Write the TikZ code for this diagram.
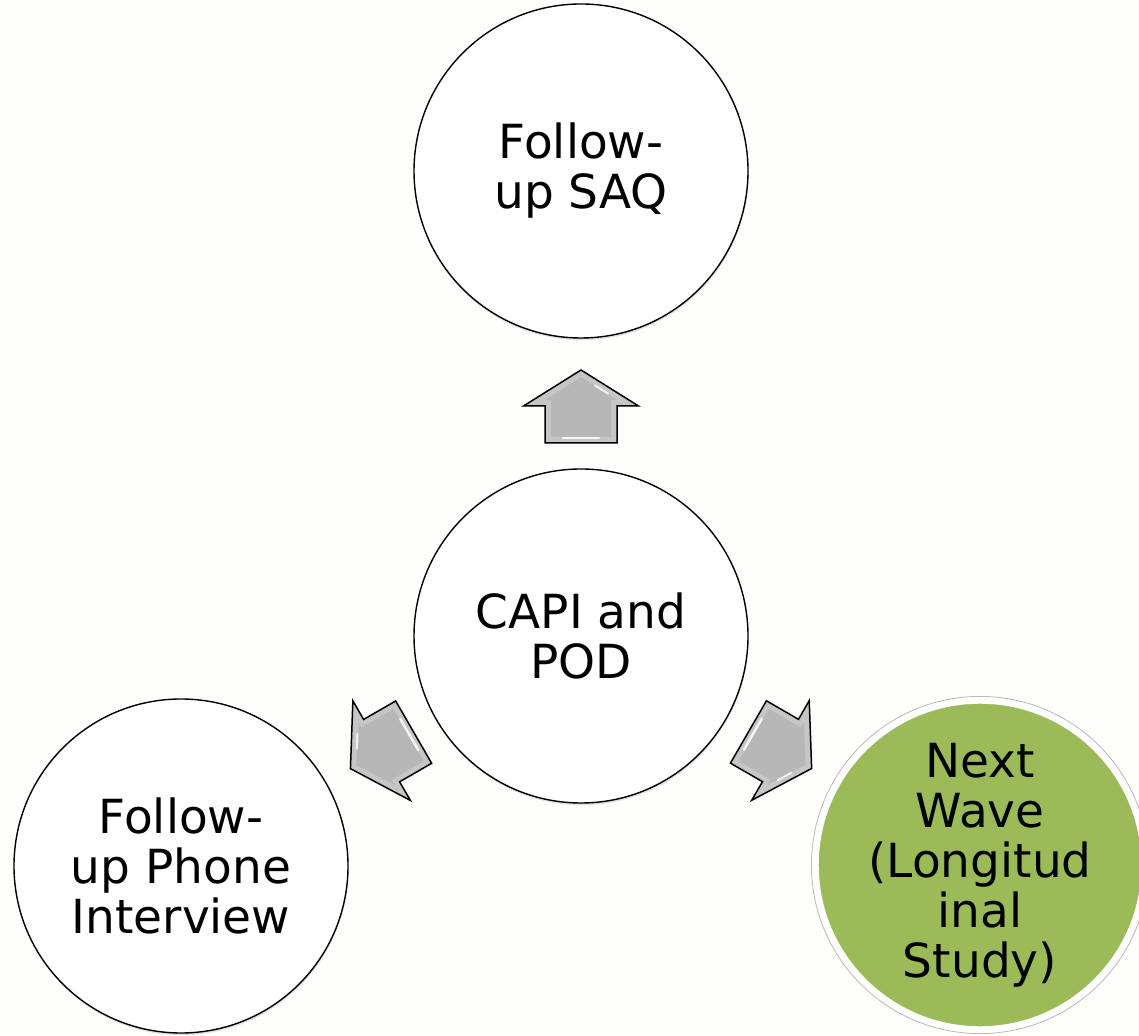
\documentclass[tikz,border=0pt]{standalone}
\usepackage{fontspec}
\setmainfont{DejaVu Sans}
\usetikzlibrary{calc,shadows}

\definecolor{paper}{HTML}{FEFEFA}
\definecolor{olive}{HTML}{9BBB59}
\definecolor{bevelrim}{HTML}{C6C6C6}
\definecolor{bevelface}{HTML}{B7B7B7}

\tikzset{
  stage/.style={circle, draw=black, line width=1.4pt, fill=white,
    minimum size=334pt, inner sep=0pt, align=center,
    font=\fontsize{47}{50}\selectfont,
    drop shadow={shadow xshift=0.6pt, shadow yshift=-2.2pt, opacity=0.22}},
  goal/.style={stage, draw=white, line width=8pt, fill=olive, minimum size=328pt},
  % beveled block arrow pointing along +x, centred on the origin
  bevelarrow/.pic={
    \path[draw=black, line width=1.5pt, line join=miter, fill=bevelrim]
      (-36.5,-36) -- (0.5,-36) -- (0.5,-57.5) -- (36.5,0)
      -- (0.5,57.5) -- (0.5,36) -- (-36.5,36) -- cycle;
    \fill[bevelface]
      (-30.5,-30) -- (6.5,-30) -- (6.5,-36) -- (29.5,0)
      -- (6.5,36) -- (6.5,30) -- (-30.5,30) -- cycle;
    \draw[white, line width=2.4pt, line cap=round, opacity=0.85]
      (-31.5,-18) -- (-31.5,18);
    \draw[white, line width=2pt, line cap=round, opacity=0.8]
      (13,-27) -- (21,-14);
  }
}

\begin{document}
\begin{tikzpicture}[x=1pt,y=1pt]
  \useasboundingbox (0,0) rectangle (1139,1035);
  \clip (0,0) rectangle (1139,1035);
  \fill[paper] (0,0) rectangle (1139,1035);

  % the four stages
  \node[stage] (saq)   at (581,864) {Follow-\\up SAQ};
  \node[stage] (capi)  at (581,399) {CAPI and\\POD};
  \node[stage] (phone) at (181,169) {Follow-\\up Phone\\Interview};
  \node[goal]  (next)  at (980,170) {Next\\Wave\\(Longitud\\inal\\Study)};
  \draw[gray!55, line width=0.8pt] (next) circle (168.6pt);

  % block arrows leading out of the central stage
  \pic[rotate=90]  at ($(capi)!229.5pt!(saq)$)   {bevelarrow};
  \pic[rotate=210] at ($(capi)!229.5pt!(phone)$) {bevelarrow};
  \pic[rotate=-30] at ($(capi)!229.5pt!(next)$)  {bevelarrow};
\end{tikzpicture}
\end{document}
